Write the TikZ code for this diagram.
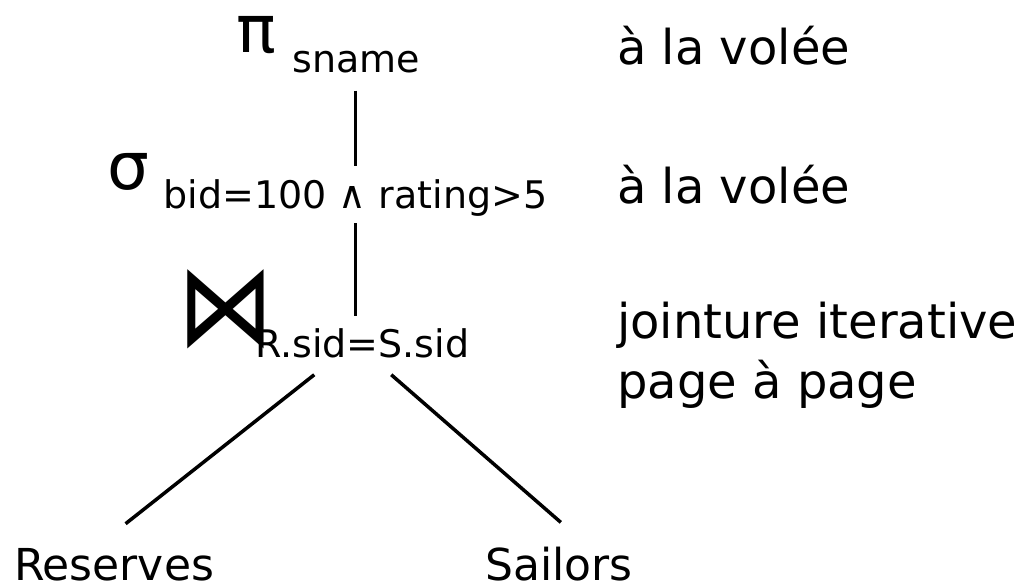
\documentclass[tikz,border=0pt]{standalone}
\usepackage{fontspec}
\setmainfont{DejaVu Sans}
\usetikzlibrary{positioning}

\begin{document}
\begin{tikzpicture}[
    x=1pt,
    y=-1pt,
    inner sep=0pt,
    op/.style={
		anchor=base west,
		font=\fontsize{66}{80}\selectfont
	},
	cond/.style={
		anchor=base west,
		font=\fontsize{38}{46}\selectfont
	},
	rel/.style={
		anchor=base west,
		font=\fontsize{44}{52}\selectfont
	},
	note/.style={
		anchor=base west,
		font=\fontsize{48}{58}\selectfont
	},
	edge/.style={
		draw,
		line width=3.5pt
	}
  ]
\useasboundingbox (0,0) rectangle (1034,584);

% // The operators
 \node [op] (proj) at (236,52) {π};
 \node [cond] (projsub) at (292,72) {sname};
 \node [op] (sel) at (107,189) {σ};
 \node [cond] (selsub) at (163.5,208) {bid=100 ∧ rating>5};
 \node [op, font=\fontsize{110}{120}\selectfont, xscale=0.88, yscale=1.05] (join) at (177,345) {⋈};
 \node [cond] (joinsub) at (255,357) {R.sid=S.sid};

% // The relations
 \node [rel] (reserves) at (14,580) {Reserves};
 \node [rel] (sailors) at (485,580) {Sailors};

% // The notes
 \node [note] (note1) at (617,64) {à la volée};
 \node [note] (note2) at (617,203) {à la volée};
 \node [note] (note3) at (617,338) {jointure iterative};
 \node [note] (note4) at (617,398) {page à page};

 \draw [edge, shorten <=18pt, shorten >=13pt] (selsub.north |- projsub.south) -- (selsub.north);
 \draw [edge, shorten <=7pt, shorten >=12pt] (selsub.south) -- (selsub.south |- joinsub.north);
 \draw [edge] ([xshift=-48pt, yshift=-17pt]joinsub.south) -- ([xshift=11.5pt, yshift=24pt]reserves.north);
 \draw [edge] ([xshift=29pt, yshift=-17pt]joinsub.south) -- ([xshift=2pt, yshift=24pt]sailors.north);

\end{tikzpicture}
\end{document}
